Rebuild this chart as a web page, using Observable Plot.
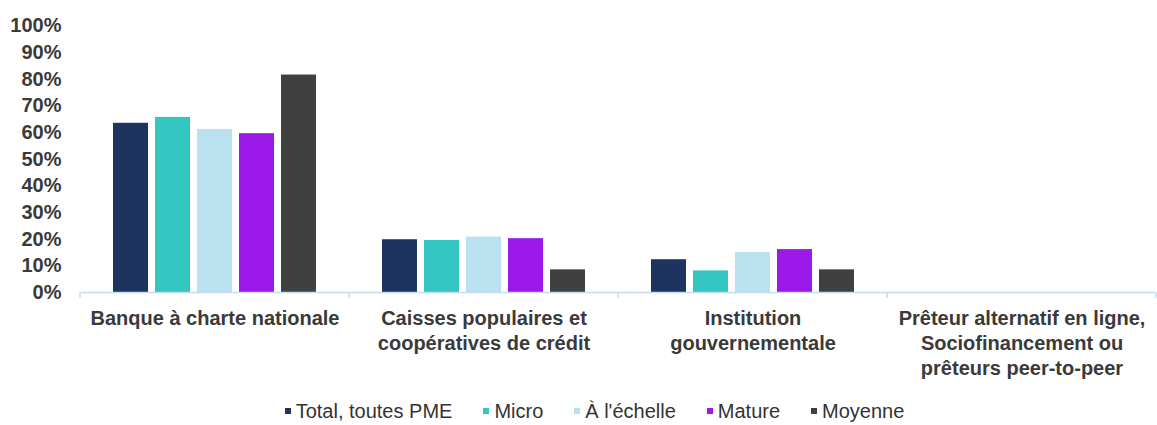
<!DOCTYPE html>
<html><head><meta charset="utf-8">
<script src="https://cdn.jsdelivr.net/npm/d3@7"></script>
<script src="https://cdn.jsdelivr.net/npm/@observablehq/plot@0.6"></script>
<style>
body{margin:0;background:#fff;font-family:"Liberation Sans",Arial,sans-serif;}
#legend{display:flex;justify-content:center;align-items:center;height:30px;padding-left:32px;font-size:20px;line-height:22px;color:#333;gap:31px;width:1157px;box-sizing:border-box}
.item{display:flex;align-items:center;gap:5px}
.sw{width:6px;height:6px;display:inline-block}
</style></head><body><div id="chart"></div><div id="legend"></div>
<script>
const categories = ["Banque", "Caisses", "Institution", "Preteur"];
const categoryLabels = [
  "Banque à charte nationale",
  "Caisses populaires et\ncoopératives de crédit",
  "Institution\ngouvernementale",
  "Prêteur alternatif en ligne,\nSociofinancement ou\nprêteurs peer-to-peer"
];
const series = ["Total, toutes PME", "Micro", "À l'échelle", "Mature", "Moyenne"];
const colors = ["#1d3461", "#34c6c1", "#b9e1f0", "#9b19e8", "#404040"];
const totalValues   = [63.5, 19.8, 12.3, 0];
const microValues   = [65.7, 19.5, 8.1, 0];
const echelleValues = [61.2, 20.8, 15.0, 0];
const matureValues  = [59.6, 20.2, 16.1, 0];
const moyenneValues = [81.6, 8.5, 8.5, 0];
const yTicks = [0, 10, 20, 30, 40, 50, 60, 70, 80, 90, 100];

const seriesValues = [totalValues, microValues, echelleValues, matureValues, moyenneValues];
const data = [];
categories.forEach((c, ci) => series.forEach((s, si) => data.push({category: c, series: s, value: seriesValues[si][ci]})));
const labelOf = new Map(categories.map((c, i) => [c, categoryLabels[i]]));

const plot = Plot.plot({
  width: 1157,
  height: 396,
  marginLeft: 79,
  marginRight: 0,
  marginTop: 25.5,
  marginBottom: 104,
  style: {fontFamily: '"Liberation Sans", Arial, sans-serif', fontSize: "20px", fontWeight: "bold", color: "#3a3a3a", background: "#fff"},
  fx: {domain: categories, padding: 0},
  x: {domain: series, paddingInner: 0.174, paddingOuter: 0.72, axis: null},
  y: {domain: [0, 100], ticks: yTicks, tickFormat: d => d + "%", tickSize: 0, tickPadding: 19, label: null, grid: false},
  color: {domain: series, range: colors},
  marks: [
    Plot.barY(data, {fx: "category", x: "series", y: "value", fill: "series"}),
    Plot.ruleY([0], {stroke: "#c5dcef", strokeWidth: 1.5}),
    Plot.axisFx({anchor: "bottom", tickSize: 0, tickPadding: 15, label: null, lineHeight: 1.25,
      tickFormat: d => labelOf.get(d), fontSize: 20, fontWeight: "bold", fill: "#3a3a3a"})
  ]
});
document.getElementById("chart").appendChild(plot);

// facet boundary ticks on the category axis, from the library's scales
const fxs = plot.scale("fx");
const ys = plot.scale("y");
const edges = categories.map(c => fxs.apply(c)).concat([fxs.apply(categories[categories.length - 1]) + fxs.step]);
const y0 = ys.apply(0);
d3.select(plot).append("g").selectAll("line").data(edges).join("line")
  .attr("x1", d => Math.min(d, 1156.5)).attr("x2", d => Math.min(d, 1156.5))
  .attr("y1", y0).attr("y2", y0 + 6)
  .attr("stroke", "#c5dcef").attr("stroke-width", 1.5);

const legend = d3.select("#legend");
series.forEach((s, i) => {
  const it = legend.append("div").attr("class", "item");
  it.append("span").attr("class", "sw").style("background", colors[i]);
  it.append("span").text(s);
});
</script></body></html>
